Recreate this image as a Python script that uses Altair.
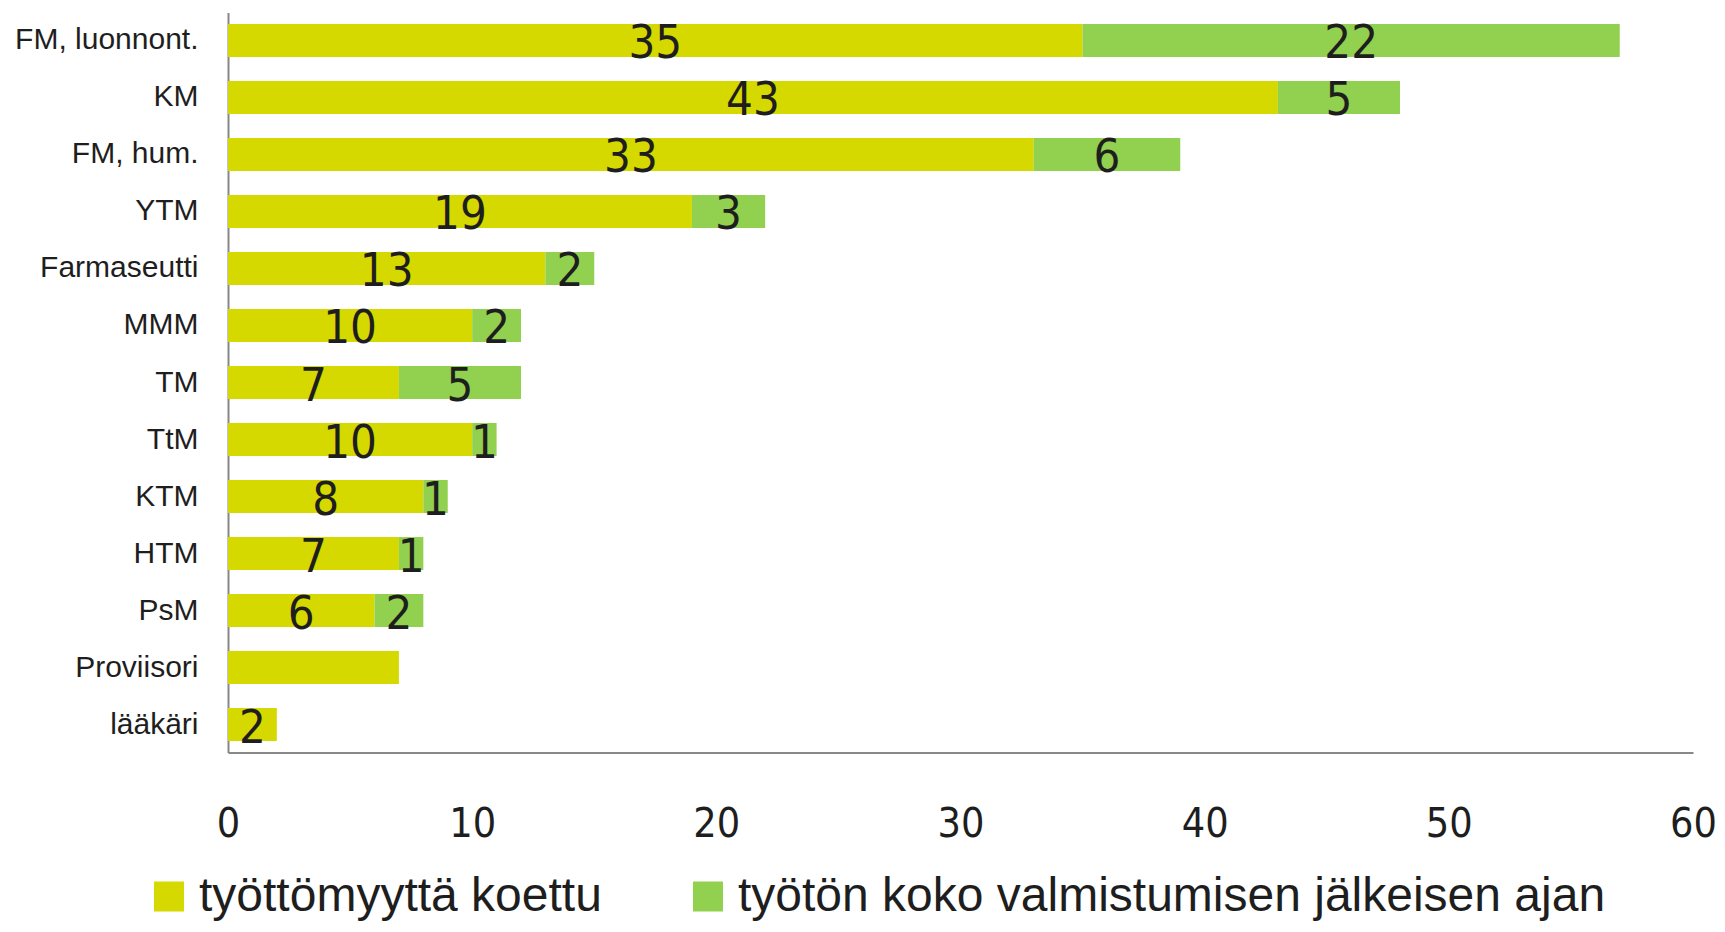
import altair as alt
import pandas as pd

categories = ["FM, luonnont.", "KM", "FM, hum.", "YTM", "Farmaseutti", "MMM", "TM",
              "TtM", "KTM", "HTM", "PsM", "Proviisori", "lääkäri"]
koettu = [35, 43, 33, 19, 13, 10, 7, 10, 8, 7, 6, 7, 2]
tyoton = [22, 5, 6, 3, 2, 2, 5, 1, 1, 1, 2, 0, 0]
koettu_labels = ["35", "43", "33", "19", "13", "10", "7", "10", "8", "7", "6", "", "2"]
tyoton_labels = ["22", "5", "6", "3", "2", "2", "5", "1", "1", "1", "2", "", ""]
series = ["työttömyyttä koettu", "työtön koko valmistumisen jälkeisen ajan"]
colors = ["#d5d900", "#92d050"]
x_ticks = [0, 10, 20, 30, 40, 50, 60]

rows = []
for c, v, l in zip(categories, koettu, koettu_labels):
    rows.append({"cat": c, "series": series[0], "order": 0, "value": v, "label": l})
for c, v, l in zip(categories, tyoton, tyoton_labels):
    rows.append({"cat": c, "series": series[1], "order": 1, "value": v, "label": l})
df = pd.DataFrame(rows)

TXT = "#1e1e1e"
NARROW = "'Liberation Sans Narrow', 'DejaVu Sans Condensed', sans-serif"
REG = "'Liberation Sans', Arial, sans-serif"

base = alt.Chart(df).transform_stack(
    stack="value", groupby=["cat"], as_=["x0", "x1"], sort=[alt.SortField("order")]
).transform_calculate(mid="(datum.x0 + datum.x1) / 2")

y_enc = alt.Y("cat:N", sort=categories, title=None,
              scale=alt.Scale(paddingInner=0.421, paddingOuter=0.2),
              axis=alt.Axis(labelFont=REG, labelFontSize=30, labelColor=TXT,
                            labelPadding=30, ticks=False, tickSize=0,
                            domainColor="#888888", domainWidth=2, grid=False,
                            labelLimit=400))

bars = base.mark_bar().encode(
    y=y_enc,
    x=alt.X("x0:Q", title=None, scale=alt.Scale(domain=[0, 60], nice=False),
            axis=alt.Axis(values=x_ticks, labelFont=NARROW, labelFontSize=41,
                          labelColor=TXT, labelPadding=52, ticks=False, tickSize=0,
                          domainColor="#888888", domainWidth=2, grid=False,
                          labelFlush=False)),
    x2="x1:Q",
    color=alt.Color("series:N", sort=series,
                    scale=alt.Scale(domain=series, range=colors),
                    legend=alt.Legend(title=None, orient="none", direction="horizontal",
                                      legendX=-83, legendY=860,
                                      symbolType="square", symbolSize=900,
                                      symbolStrokeWidth=0, symbolOpacity=1,
                                      labelFont=REG, labelFontSize=48, labelColor=TXT,
                                      labelOffset=6, columnPadding=82, padding=0,
                                      labelLimit=1200)),
)

text = base.transform_filter("datum.label != ''").mark_text(
    font=NARROW, fontSize=47, color=TXT, baseline="middle", dy=4
).encode(
    y=alt.Y("cat:N", sort=categories),
    x=alt.X("mid:Q"),
    text="label:N",
)

chart = alt.layer(bars, text).properties(
    width=1465, height=740,
    autosize=alt.AutoSizeParams(type="none"),
    padding={"left": 220, "top": 4.5, "right": 24, "bottom": 171},
).configure(background="white").configure_view(stroke=None, strokeWidth=0)

chart.save("out.html", embed_options={"renderer": "svg", "actions": False})
